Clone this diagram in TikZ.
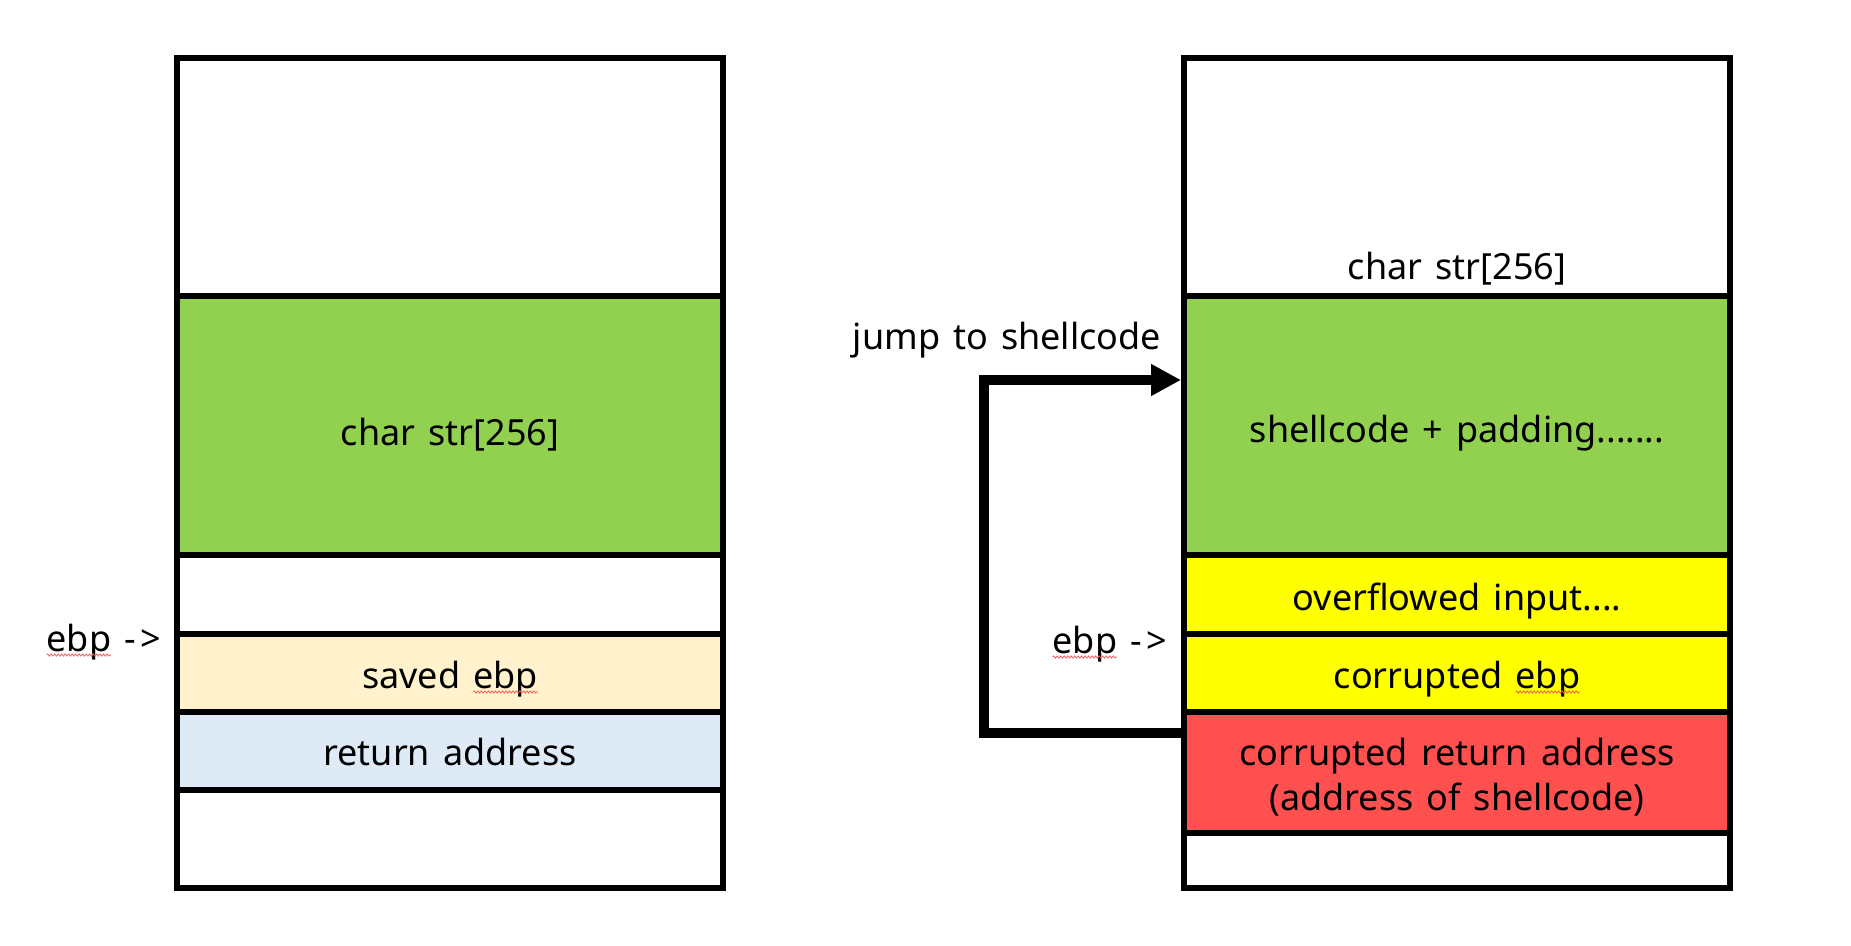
\documentclass[tikz,border=0pt]{standalone}
\usepackage{fontspec}
\setmainfont[WordSpace=1.4]{Noto Sans}
\usetikzlibrary{arrows.meta,decorations.pathmorphing}
\definecolor{cgreen}{HTML}{92D050}
\definecolor{cyellow}{HTML}{FFFF00}
\definecolor{cred}{HTML}{FF5050}
\definecolor{cbeige}{HTML}{FFF2CC}
\definecolor{cblue}{HTML}{DEEBF7}
\definecolor{csquig}{HTML}{F06060}
\begin{document}
\begin{tikzpicture}[x=1bp,y=-1bp,
  band/.style={draw=black, line width=6bp, rectangle, inner sep=0pt, outer sep=0pt,
    minimum width=546bp, anchor=north west},
  lbl/.style={font=\fontsize{36bp}{45bp}\selectfont, inner sep=0pt, outer sep=0pt, anchor=base},
  ghost/.style={font=\fontsize{36bp}{45bp}\selectfont, inner sep=0pt, outer sep=0pt},
  squig/.style={draw=csquig, line width=0.8bp, decorate,
    decoration={snake, amplitude=1.1bp, segment length=3.5bp}},
  jump/.style={draw=black, line width=10bp, line join=miter,
    -{Triangle[length=30bp,width=30bp]}}
]
\useasboundingbox (0,0) rectangle (1851,945);
% ---------- left stack ----------
\node[band, fill=white,  minimum height=238bp] (l1) at (177,58)  {};
\node[band, fill=cgreen, minimum height=259bp] (l2) at (177,296) {};
\node[band, fill=white,  minimum height=79bp]  (l3) at (177,555) {};
\node[band, fill=cbeige, minimum height=78bp]  (l4) at (177,634) {};
\node[band, fill=cblue,  minimum height=78bp]  (l5) at (177,712) {};
\node[band, fill=white,  minimum height=98bp]  (l6) at (177,790) {};
\node[lbl] (tl2) at (450,445) {char str[256]};
\node[lbl] (tl4) at (450,688) {saved ebp};
\node[lbl] (tl5) at (450,765) {return address};
\node[lbl] (tebpl) at (104,651) {ebp -\hspace{5bp}>};
% ---------- right stack ----------
\node[band, fill=white,   minimum height=238bp] (r1) at (1184,58)  {};
\node[band, fill=cgreen,  minimum height=259bp] (r2) at (1184,296) {};
\node[band, fill=cyellow, minimum height=79bp]  (r3) at (1184,555) {};
\node[band, fill=cyellow, minimum height=78bp]  (r4) at (1184,634) {};
\node[band, fill=cred,    minimum height=121bp] (r5) at (1184,712) {};
\node[band, fill=white,   minimum height=55bp]  (r6) at (1184,833) {};
\node[lbl] (tr1) at (1457,279) {char str[256]};
\node[lbl] (tr2) at (1457,442) {shellcode + padding.......};
\node[lbl] (tr3) at (1457,610) {overflowed input....};
\node[lbl] (tr4) at (1457,688) {corrupted ebp};
\node[lbl] (tr5a) at (1457,765) {corrupted return address};
\node[lbl] (tr5b) at (1457,810) {(address of shellcode)};
\node[lbl] (tebpr) at (1110,653) {ebp -\hspace{5bp}>};
\node[lbl] (tjump) at (1007,349) {jump to shellcode};
% ---------- jump arrow ----------
\coordinate (jb) at (984,733);
\coordinate (jc) at (984,380);
\draw[jump, shorten >=3bp] (r5.west |- jb) -- (jb) -- (jc) -- (r2.west |- jc);
% ---------- spell-check squiggles under "ebp" ----------
\node[ghost, anchor=base east] (g1) at (tl4.base east) {\phantom{ebp}};
\node[ghost, anchor=base east] (g2) at (tr4.base east) {\phantom{ebp}};
\node[ghost, anchor=base west] (g3) at (tebpl.base west) {\phantom{ebp}};
\node[ghost, anchor=base west] (g4) at (tebpr.base west) {\phantom{ebp}};
\foreach \g in {g1,g2,g3,g4}{
  \draw[squig] ([yshift=-4bp]\g.base west) -- ([yshift=-4bp]\g.base east);
}
\end{tikzpicture}
\end{document}
